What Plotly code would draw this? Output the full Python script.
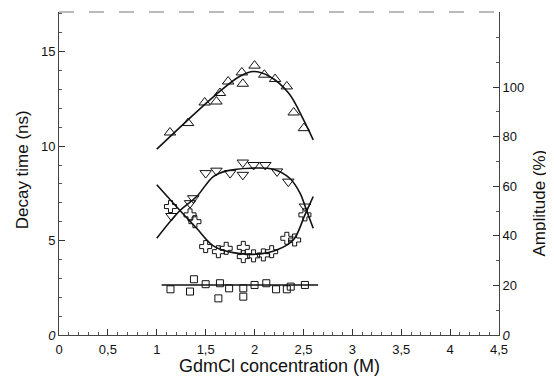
import plotly.graph_objects as go

# ---- data ----
# long decay time (up triangles)
up_x = [1.135, 1.32, 1.49, 1.61, 1.646, 1.73, 1.87, 1.88, 2.0, 2.1, 2.21, 2.33, 2.40, 2.505]
up_y = [10.72, 11.22, 12.31, 12.36, 12.81, 13.42, 13.9, 13.3, 14.26, 13.78, 13.55, 13.16, 11.78, 10.95]
up_fit_x = [1.0, 1.3, 1.6, 1.85, 1.99, 2.15, 2.35, 2.5, 2.6]
up_fit_y = [9.84, 11.3, 12.7, 13.7, 13.95, 13.7, 12.8, 11.4, 10.33]

# middle decay time (down triangles)
dn_x = [1.15, 1.34, 1.373, 1.50, 1.61, 1.75, 1.88, 1.88, 1.99, 2.11, 2.23, 2.345, 2.515]
dn_y = [6.3, 6.98, 7.24, 8.57, 8.7, 8.57, 9.13, 8.48, 9.0, 9.0, 8.66, 8.12, 6.8]
dn_fit_x = [1.0, 1.237, 1.408, 1.578, 1.715, 1.953, 2.19, 2.36, 2.465, 2.53, 2.60]
dn_fit_y = [5.12, 6.59, 7.33, 8.39, 8.69, 8.83, 8.78, 8.3, 7.51, 6.62, 5.65]

# short decay time (crosses)
cr_x = [1.14, 1.34, 1.39, 1.50, 1.63, 1.71, 1.885, 1.885, 1.99, 2.09, 2.175, 2.33, 2.41, 2.515]
cr_y = [6.8, 6.36, 6.0, 4.68, 4.41, 4.59, 4.64, 4.15, 4.19, 4.24, 4.41, 5.12, 5.03, 6.36]
cr_fit_x = [1.0, 1.237, 1.408, 1.578, 1.78, 2.02, 2.226, 2.396, 2.515, 2.60]
cr_fit_y = [7.95, 6.59, 5.65, 4.72, 4.36, 4.28, 4.5, 5.03, 6.36, 7.33]

# shortest decay time (squares)
sq_x = [1.14, 1.34, 1.38, 1.50, 1.63, 1.646, 1.74, 1.885, 1.885, 2.0, 2.12, 2.22, 2.33, 2.37, 2.515]
sq_y = [2.42, 2.30, 2.95, 2.69, 1.94, 2.74, 2.47, 2.47, 2.03, 2.65, 2.74, 2.42, 2.42, 2.56, 2.65]
sq_fit_x = [1.05, 2.65]
sq_fit_y = [2.65, 2.65]

x_ticks = [0, 0.5, 1, 1.5, 2, 2.5, 3, 3.5, 4, 4.5]
x_ticktext = ["0", "0,5", "1", "1,5", "2", "2,5", "3", "3,5", "4", "4,5"]
y_ticks = [0, 5, 10, 15]
y_ticktext = ["<i>0</i>", "5", "10", "15"]
y2_ticks = [0, 20, 40, 60, 80, 100]
y2_ticktext = ["<i>0</i>", "20", "40", "60", "80", "100"]

FONT = "Liberation Sans"
BLACK = "#111111"

fig = go.Figure()

def fit(xs, ys):
    fig.add_trace(go.Scatter(x=xs, y=ys, mode="lines",
                             line=dict(color=BLACK, width=1.6, shape="spline", smoothing=1.0),
                             showlegend=False, hoverinfo="skip"))

def pts(xs, ys, sym, size):
    fig.add_trace(go.Scatter(x=xs, y=ys, mode="markers",
                             marker=dict(symbol=sym, size=size, color=BLACK, line=dict(width=1, color=BLACK)),
                             showlegend=False))

fit(up_fit_x, up_fit_y)
fit(dn_fit_x, dn_fit_y)
fit(cr_fit_x, cr_fit_y)
fit(sq_fit_x, sq_fit_y)
pts(up_x, up_y, "triangle-up-open", 10)
pts(dn_x, dn_y, "triangle-down-open", 10)
pts(cr_x, cr_y, "cross-open", 10)
pts(sq_x, sq_y, "square-open", 7)

# right axis carrier
fig.add_trace(go.Scatter(x=[None], y=[None], yaxis="y2", mode="markers", showlegend=False))

axis_common = dict(showgrid=False, zeroline=False, showline=True, linecolor="#444444", linewidth=1,
                   ticks="inside", tickcolor="#333333", tickwidth=1, ticklen=6,
                   tickfont=dict(family=FONT, size=13, color=BLACK))

# the page body has a default 8px margin, so the figure is offset by 8px;
# margins compensate so the plot area sits at x 59..499, y 12..335 in the window
fig.update_layout(
    width=554, height=382,
    margin=dict(l=51, r=63, t=4, b=55),
    paper_bgcolor="white", plot_bgcolor="white",
    font=dict(family=FONT, color=BLACK),
    xaxis=dict(range=[0, 4.5], tickvals=x_ticks, ticktext=x_ticktext,
               ticklabelstandoff=2,
               minor=dict(ticks="inside", ticklen=3, dtick=0.1, tickcolor="#555555"),
               **axis_common),
    yaxis=dict(range=[0, 17.1], tickvals=y_ticks, ticktext=y_ticktext,
               minor=dict(ticks="inside", ticklen=3, dtick=1, tickcolor="#555555"),
               **axis_common),
    yaxis2=dict(range=[0, 130.3], tickvals=y2_ticks, ticktext=y2_ticktext, overlaying="y", side="right",
                minor=dict(ticks="inside", ticklen=3, dtick=10, tickcolor="#555555"),
                **axis_common),
    shapes=[dict(type="line", xref="paper", yref="paper", x0=0, x1=1, y0=1, y1=1,
                 line=dict(color="#777777", width=1, dash="longdash"))],
    annotations=[
        dict(text="GdmCl concentration (M)", xref="paper", yref="paper", x=0.5, y=-0.097,
             xanchor="center", yanchor="middle", showarrow=False,
             font=dict(family=FONT, size=18, color=BLACK)),
        dict(text="Decay time (ns)", xref="paper", yref="paper", x=-0.084, y=0.51,
             xanchor="center", yanchor="middle", textangle=-90, showarrow=False,
             font=dict(family=FONT, size=17, color=BLACK)),
        dict(text="Amplitude (%)", xref="paper", yref="paper", x=1.093, y=0.41,
             xanchor="center", yanchor="middle", textangle=-90, showarrow=False,
             font=dict(family=FONT, size=17, color=BLACK)),
    ],
)

fig.write_html("out.html")
